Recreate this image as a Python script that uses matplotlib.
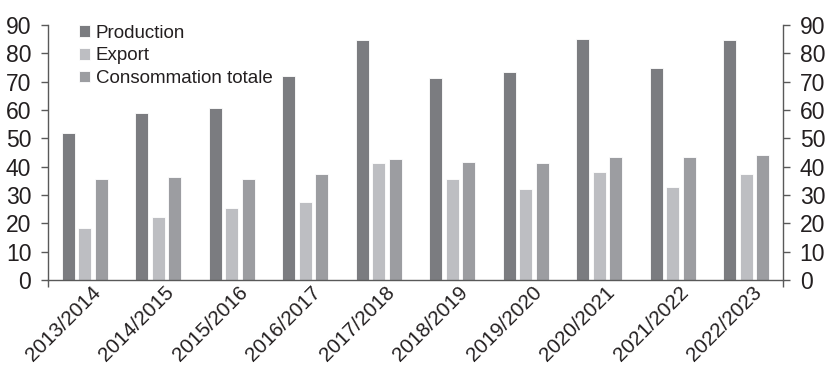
import matplotlib
matplotlib.use("Agg")
import matplotlib.pyplot as plt
import matplotlib.transforms as mtransforms
import numpy as np

categories = ["2013/2014", "2014/2015", "2015/2016", "2016/2017", "2017/2018",
              "2018/2019", "2019/2020", "2020/2021", "2021/2022", "2022/2023"]
production = [51.8, 58.8, 60.7, 72.1, 84.7, 71.4, 73.4, 85.1, 74.7, 84.8]
export = [18.5, 22.2, 25.4, 27.6, 41.2, 35.5, 32.2, 38.2, 32.9, 37.5]
consommation = [35.6, 36.4, 35.5, 37.5, 42.8, 41.8, 41.2, 43.3, 43.3, 44.0]
series_names = ["Production", "Export", "Consommation totale"]
yticks = [0, 10, 20, 30, 40, 50, 60, 70, 80, 90]

plt.rcParams['font.family'] = ['Liberation Sans', 'DejaVu Sans']
text_color = "#231f20"
spine_color = "#595959"
colors = ["#7b7c80", "#bdbec2", "#9c9da1"]

fig = plt.figure(figsize=(8.26, 3.67), dpi=100)
ax = fig.add_axes([48/826, 1-280/367, (783-48)/826, (280-25)/367])

x = np.arange(len(categories))
step = 0.224
width = 0.18
for i, (vals, c, name) in enumerate(zip([production, export, consommation], colors, series_names)):
    ax.bar(x + (i-1)*step, vals, width=width, color=c, edgecolor="white",
           linewidth=0.6, label=name, zorder=2)

ax.set_xlim(-0.5, len(categories)-0.5)
ax.set_ylim(0, 90)
ax.set_yticks(yticks)
ax.set_xticks(x)
ax.set_xticklabels(categories, rotation=45, ha="right", rotation_mode="anchor",
                   fontsize=14.8, color=text_color)
ax.tick_params(axis="x", length=0, pad=2)
offset = mtransforms.ScaledTranslation(6/100, 0/100, fig.dpi_scale_trans)
for lbl in ax.get_xticklabels():
    lbl.set_transform(lbl.get_transform() + offset)
ax.set_xticks([-0.5, len(categories)-0.5], minor=True)
ax.tick_params(axis="x", which="minor", length=5, color=spine_color, width=1)
ax.tick_params(axis="y", length=5, color=spine_color, width=1, labelsize=16.5,
               labelcolor=text_color, pad=7)

for s in ["top", "right"]:
    ax.spines[s].set_visible(False)
for s in ["left", "bottom"]:
    ax.spines[s].set_color(spine_color)
    ax.spines[s].set_linewidth(1)

ax2 = ax.twinx()
ax2.set_ylim(0, 90)
ax2.set_yticks(yticks)
ax2.tick_params(axis="y", length=5, color=spine_color, width=1, labelsize=16.5,
                labelcolor=text_color, pad=7)
for s in ["top", "left", "bottom"]:
    ax2.spines[s].set_visible(False)
ax2.spines["right"].set_color(spine_color)
ax2.spines["right"].set_linewidth(1)

leg = ax.legend(loc="upper left", bbox_to_anchor=(0.032, 1.03), frameon=False,
                fontsize=13.5, handlelength=0.6, handleheight=0.6, handletextpad=0.3,
                labelspacing=0.3, borderaxespad=0)
for t in leg.get_texts():
    t.set_color(text_color)

fig.savefig("out.png", dpi=100)
